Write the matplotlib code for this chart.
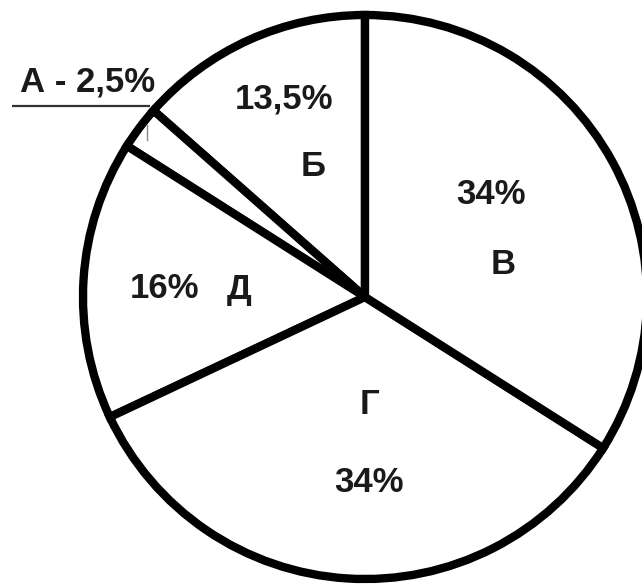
import matplotlib
matplotlib.use('Agg')
import matplotlib.pyplot as plt

# slices, counterclockwise from the top
labels = ['Б', 'А', 'Д', 'Г', 'В']
shares = [13.5, 2.5, 16, 34, 34]
pct_text = ['13,5%', 'А - 2,5%', '16%', '34%', '34%']

W, H = 642, 586
fnt = ['Liberation Sans', 'DejaVu Sans']

fig = plt.figure(figsize=(W / 100, H / 100), dpi=100, facecolor='w')
ax = fig.add_axes([0, 0, 1, 1])

ax.pie(shares, startangle=90, counterclock=True, center=(365, H - 297), radius=282,
       frame=True,
       wedgeprops=dict(facecolor='white', edgecolor='black', linewidth=6.0,
                       joinstyle='miter'))

ax.set_xlim(0, W)
ax.set_ylim(0, H)
ax.set_aspect('equal')
ax.axis('off')


def px(x, y):
    return x, H - y


# label positions in picture pixels (x, y from top)
letter_pos = {'Б': (313, 167), 'Д': (239, 290), 'Г': (369, 405), 'В': (503, 265)}
pct_pos = {'Б': (284, 99), 'Д': (164, 288), 'Г': (369, 483), 'В': (491, 194)}

kw = dict(family=fnt, fontsize=25, fontweight='bold', ha='center', va='center',
          color='#1a1a1a')
for lab, txt in zip(labels, pct_text):
    if lab == 'А':
        ax.text(*px(88, 82), txt, **kw)
        continue
    ax.text(*px(*letter_pos[lab]), lab, **kw)
    ax.text(*px(*pct_pos[lab]), txt, **kw)

# leader line under the small slice label
ax.plot([12, 150], [H - 106, H - 106], color='#333333', lw=1.6, solid_capstyle='butt')
ax.plot([147, 147], [H - 125, H - 140], color='#888888', lw=1.0)

fig.savefig('out.png', dpi=100, facecolor='w')
